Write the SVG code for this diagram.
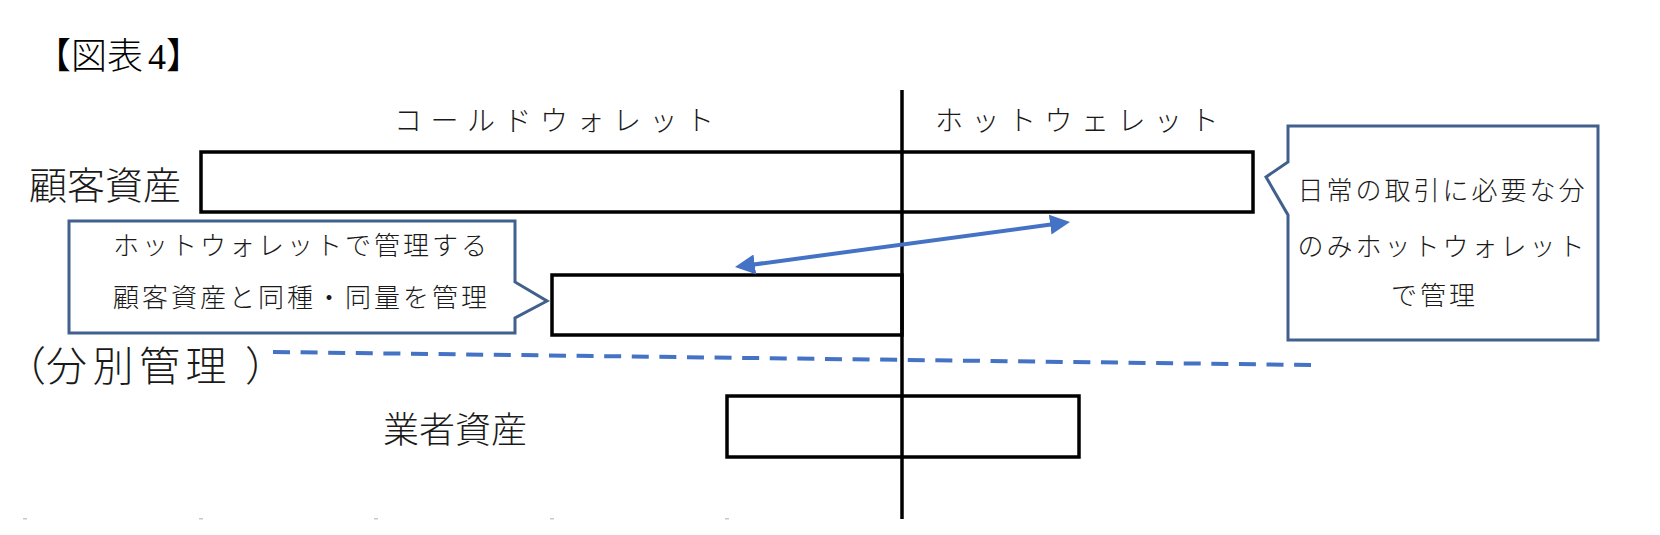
<svg xmlns="http://www.w3.org/2000/svg" width="1660" height="535" viewBox="0 0 1660 535">
<style>
  .bg{fill:#ffffff}
  .box{fill:none;stroke:#000000;stroke-width:3.5}
  .callout{fill:#ffffff;stroke:#41608E;stroke-width:3;stroke-linejoin:miter}
  .axis{stroke:#000000;stroke-width:3.5;fill:none}
  .arrow{stroke:#4472C4;stroke-width:4;fill:none}
  .dash{stroke:#4472C4;stroke-width:4;fill:none;stroke-dasharray:17 10.6}
  .t{font-family:"Noto Sans CJK JP","Noto Sans CJK SC",sans-serif;font-weight:300;fill:#1a1a1a}
  .big{font-size:36px}
  .col{font-size:28px;letter-spacing:8.5px}
  .note{font-size:26px;letter-spacing:3px}
  .title{font-family:"Liberation Serif","Noto Sans CJK JP",serif;font-weight:300;font-size:36px;fill:#000}
  .tick{fill:#c8c8c8}
</style>
<defs>
  <marker id="head" viewBox="0 0 20 20" refX="10" refY="10" markerWidth="20" markerHeight="20" markerUnits="userSpaceOnUse" orient="auto-start-reverse">
    <path d="M0,0 L20,10 L0,20 Z" fill="#4472C4"/>
  </marker>
</defs>
<rect class="bg" x="0" y="0" width="1660" height="535"/>

<g id="title"><text class="title" x="35" y="69">【図表<tspan dx="5">4</tspan>】</text></g>

<g id="label-cold"><text class="t col" x="394" y="131">コールドウォレット</text></g>
<g id="label-hot"><text class="t col" x="935" y="131">ホットウェレット</text></g>

<g id="customer-assets">
  <rect class="box" x="201" y="152" width="1052" height="60"/>
  <text class="t big" x="29" y="199" style="font-size:38px">顧客資産</text>
</g>

<g id="segregated-hot">
  <rect class="box" x="552" y="275" width="350" height="60"/>
</g>

<g id="segregated-label"><text class="t big" x="5 46 92.5 139 185.5 245" y="381" style="font-size:41px">（分別管理）</text></g>

<g id="vendor-assets">
  <rect class="box" x="727" y="396" width="352" height="61"/>
  <text class="t big" x="383" y="443">業者資産</text>
</g>

<g id="callout-left">
  <path class="callout" d="M69,221 H515 V282 L547,301 L515,318 V333 H69 Z"/>
  <text class="t note" x="301.5" y="255" text-anchor="middle">ホットウォレットで管理する</text>
  <text class="t note" x="301.5" y="307" text-anchor="middle">顧客資産と同種・同量を管理</text>
</g>

<g id="callout-right">
  <path class="callout" d="M1288,126 H1598 V340 H1288 V215 L1266,177 L1288,162 Z"/>
  <text class="t note" x="1442.5" y="200" text-anchor="middle">日常の取引に必要な分</text>
  <text class="t note" x="1442.5" y="256" text-anchor="middle">のみホットウォレット</text>
  <text class="t note" x="1434.5" y="305" text-anchor="middle">で管理</text>
</g>

<g id="connectors">
  <line class="axis" x1="902" y1="90" x2="902" y2="519"/>
  <line class="arrow" x1="744.9" y1="265.7" x2="1060.1" y2="223.3" marker-start="url(#head)" marker-end="url(#head)"/>
  <line class="dash" x1="273" y1="352" x2="1311" y2="365"/>
</g>

<g id="ticks">
  <rect class="tick" x="23" y="518" width="4" height="1.5"/>
  <rect class="tick" x="199" y="518" width="4" height="1.5"/>
  <rect class="tick" x="374" y="518" width="4" height="1.5"/>
  <rect class="tick" x="550" y="518" width="4" height="1.5"/>
  <rect class="tick" x="725" y="518" width="4" height="1.5"/>
</g>
</svg>
